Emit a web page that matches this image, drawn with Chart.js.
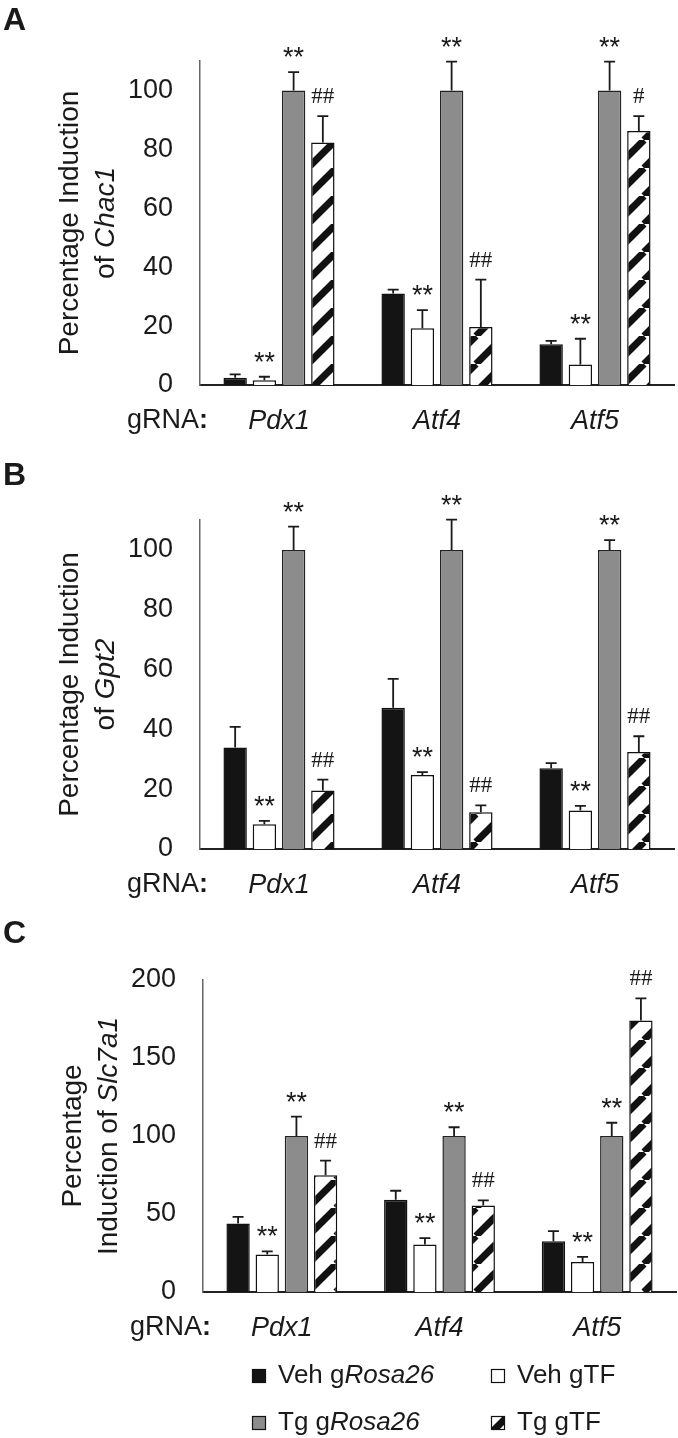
<!DOCTYPE html>
<html>
<head>
<meta charset="utf-8">
<script src="https://cdn.jsdelivr.net/npm/chart.js@4/dist/chart.umd.min.js"></script>
<style>
  html, body { margin: 0; padding: 0; background: #fff; }
  body { width: 678px; height: 1438px; position: relative; overflow: hidden; }
  .panel { position: absolute; left: 0; width: 678px; }
  #panelA { top: 0; height: 450px; }
  #panelB { top: 450px; height: 450px; }
  #panelC { top: 900px; height: 538px; }
</style>
</head>
<body>
<div class="panel" id="panelA"><canvas id="chartA"></canvas></div>
<div class="panel" id="panelB"><canvas id="chartB"></canvas></div>
<div class="panel" id="panelC"><canvas id="chartC"></canvas></div>
<script>
// ── Data ───────────────────────────────────────────────────────────────
const gRNAs = ['Pdx1', 'Atf4', 'Atf5'];
const seriesNames = ['Veh gRosa26', 'Veh gTF', 'Tg gRosa26', 'Tg gTF'];
// legend text as [text, style] runs (Rosa26 is italic)
const seriesLegend = [
  [['Veh g', ''], ['Rosa26', 'italic']],
  [['Veh gTF', '']],
  [['Tg g', ''], ['Rosa26', 'italic']],
  [['Tg gTF', '']]
];

// A - Chac1
const chacTicks = [0, 20, 40, 60, 80, 100];
const chacVehRosa = [2.5, 31.1, 13.8];
const chacVehTF   = [1.6, 19.3, 7.0];
const chacTgRosa  = [100, 100, 100];
const chacTgTF    = [82.3, 19.7, 86.2];
const chacErrVehRosa = [1.1, 1.3, 1.2];
const chacErrVehTF   = [1.2, 6.1, 8.7];
const chacErrTgRosa  = [6.2, 9.8, 9.8];
const chacErrTgTF    = [9.0, 16.1, 5.1];
const chacMarks = [['', '', ''], ['**', '**', '**'], ['**', '**', '**'], ['##', '##', '#']];

// B - Gpt2
const gptTicks = [0, 20, 40, 60, 80, 100];
const gptVehRosa = [33.9, 47.2, 27.0];
const gptVehTF   = [8.3, 24.7, 12.9];
const gptTgRosa  = [100, 100, 100];
const gptTgTF    = [19.6, 12.3, 32.4];
const gptErrVehRosa = [6.9, 9.7, 1.7];
const gptErrVehTF   = [1.1, 1.0, 1.5];
const gptErrTgRosa  = [7.8, 10.1, 3.3];
const gptErrTgTF    = [3.6, 2.3, 5.3];
const gptMarks = [['', '', ''], ['**', '**', '**'], ['**', '**', '**'], ['##', '##', '##']];

// C - Slc7a1
const slcTicks = [0, 50, 100, 150, 200];
const slcVehRosa = [43.9, 59.1, 32.6];
const slcVehTF   = [24.0, 30.4, 19.3];
const slcTgRosa  = [100, 100, 100];
const slcTgTF    = [74.8, 55.5, 174.1];
const slcErrVehRosa = [4.3, 5.8, 6.4];
const slcErrVehTF   = [2.1, 4.1, 3.2];
const slcErrTgRosa  = [12.4, 5.6, 8.5];
const slcErrTgTF    = [9.4, 3.2, 14.1];
const slcMarks = [['', '', ''], ['**', '**', '**'], ['**', '**', '**'], ['##', '##', '##']];

// ── Drawing helpers ────────────────────────────────────────────────────
const ink = '#1a1a1a';
const sans = "'Liberation Sans', Arial, sans-serif";
const serif = "'Liberation Serif', 'Times New Roman', serif";

// draw a line of mixed-style runs
function drawRuns(ctx, parts, x, y, size, align) {
  const fonts = parts.map(p => `${p[1]} ${size}px ${sans}`);
  let total = 0;
  const widths = parts.map((p, i) => { ctx.font = fonts[i]; const w = ctx.measureText(p[0]).width; total += w; return w; });
  let cx = align === 'center' ? x - total / 2 : align === 'right' ? x - total : x;
  ctx.textAlign = 'left';
  parts.forEach((p, i) => { ctx.font = fonts[i]; ctx.fillText(p[0], cx, y); cx += widths[i]; });
}

function makeHatch(ctx) {
  const c = document.createElement('canvas');
  c.width = 28; c.height = 28;
  const g = c.getContext('2d');
  g.fillStyle = '#fff'; g.fillRect(0, 0, 28, 28);
  g.strokeStyle = '#111'; g.lineWidth = 7;
  [-28, 0, 28].forEach(k => { g.beginPath(); g.moveTo(k, 28); g.lineTo(k + 28, 0); g.stroke(); });
  return ctx.createPattern(c, 'repeat');
}

// error bars, significance marks, labels, titles, legend
const panelExtras = {
  id: 'panelExtras',
  afterDatasetsDraw(chart, args, o) {
    const { ctx, chartArea: a, scales: { x, y } } = chart;
    ctx.save();
    ctx.fillStyle = ink;
    ctx.strokeStyle = ink;

    chart.data.datasets.forEach((ds, i) => {
      chart.getDatasetMeta(i).data.forEach((bar, j) => {
        const top = y.getPixelForValue(ds.data[j] + ds.err[j]);
        ctx.lineWidth = 1.8;
        ctx.beginPath();
        ctx.moveTo(bar.x, bar.y); ctx.lineTo(bar.x, top);
        ctx.moveTo(bar.x - 5.5, top); ctx.lineTo(bar.x + 5.5, top);
        ctx.stroke();
        const m = ds.marks[j];
        if (!m) return;
        ctx.textAlign = 'center';
        ctx.textBaseline = 'alphabetic';
        if (m[0] === '#') {
          ctx.font = `23px ${serif}`;
          ctx.fillText(m, bar.x, top - 21 + 8);
        } else {
          ctx.font = `27px ${sans}`;
          ctx.fillText(m, bar.x, top - 21 + 15);
        }
      });
    });

    // category labels + "gRNA:"
    ctx.textBaseline = 'middle';
    const ly = a.bottom + 36;
    chart.data.labels.forEach((lab, i) => {
      drawRuns(ctx, [[lab, 'italic']], x.getPixelForTick(i), ly, 27, 'center');
    });
    drawRuns(ctx, [['gRNA', ''], [':', 'bold']], a.left + 8, ly, 27, 'right');

    // rotated y title
    ctx.textBaseline = 'alphabetic';
    ctx.save();
    ctx.translate(a.left - 122, (a.top + a.bottom) / 2);
    ctx.rotate(-Math.PI / 2);
    o.yTitle.forEach((line, k) => drawRuns(ctx, line, 0, k * 36, 28, 'center'));
    ctx.restore();

    // panel letter
    ctx.font = `bold 32px ${sans}`;
    ctx.textAlign = 'left';
    ctx.fillText(o.letter, 3, o.letterY);

    if (o.legend) {
      const cols = [a.left + 49, a.left + 288];
      const rows = [a.bottom + 84, a.bottom + 131];
      chart.data.datasets.forEach((ds, i) => {
        const sx = cols[i % 2], sy = rows[Math.floor(i / 2)];
        // shift so a hatch stripe runs through the swatch centre
        const dx = (sx + 7 + sy + 3) % 28;
        ctx.save();
        ctx.translate(dx, 0);
        ctx.fillStyle = ds.backgroundColor;
        ctx.fillRect(sx - dx, sy - 7, 14, 14);
        ctx.restore();
        ctx.lineWidth = 1.2;
        ctx.strokeStyle = '#111';
        ctx.strokeRect(sx + 0.5, sy - 6.5, 13, 13);
        ctx.fillStyle = ink;
        ctx.textBaseline = 'middle';
        drawRuns(ctx, seriesLegend[i], sx + 26, sy, 26, 'left');
      });
    }
    ctx.restore();
  }
};

function makePanel(id, cfg) {
  const ctx = document.getElementById(id).getContext('2d');
  const hatch = makeHatch(ctx);
  const fills = ['#141414', '#ffffff', '#8c8c8c', hatch];
  const borders = ['#111', '#111', '#222', '#111'];
  const datasets = cfg.values.map((vals, i) => ({
    label: seriesNames[i],
    data: vals,
    err: cfg.errs[i],
    marks: cfg.marks[i],
    backgroundColor: fills[i],
    borderColor: borders[i],
    borderWidth: 1.5,
    categoryPercentage: 0.74,
    barPercentage: 0.8
  }));
  return new Chart(ctx, {
    type: 'bar',
    data: { labels: gRNAs, datasets },
    plugins: [panelExtras],
    options: {
      responsive: true, maintainAspectRatio: false, animation: false,
      layout: { padding: { left: 0, right: cfg.padRight, top: cfg.padTop, bottom: cfg.padBottom } },
      plugins: {
        legend: { display: false },
        tooltip: { enabled: false },
        panelExtras: { letter: cfg.letter, letterY: cfg.letterY, yTitle: cfg.yTitle, legend: cfg.legend }
      },
      scales: {
        x: {
          afterFit: s => { s.height = 10; },
          grid: { display: false, drawTicks: false },
          border: { color: '#222', width: 2 },
          ticks: { display: false }
        },
        y: {
          min: 0, max: cfg.yMax,
          afterBuildTicks: s => { s.ticks = cfg.ticks.map(v => ({ value: v })); },
          afterFit: s => { s.width = cfg.axisLeft; },
          grid: { display: false, drawTicks: false },
          border: { color: '#666', width: 1.5 },
          ticks: { padding: 27, color: ink, font: { family: sans, size: 27 } }
        }
      }
    }
  });
}

makePanel('chartA', {
  letter: 'A', letterY: 30, yMax: 110, ticks: chacTicks,
  values: [chacVehRosa, chacVehTF, chacTgRosa, chacTgTF],
  errs: [chacErrVehRosa, chacErrVehTF, chacErrTgRosa, chacErrTgTF],
  marks: chacMarks,
  yTitle: [[['Percentage Induction', '']], [['of ', ''], ['Chac1', 'italic']]],
  axisLeft: 200, padRight: 4, padTop: 61, padBottom: 55, legend: false
});

makePanel('chartB', {
  letter: 'B', letterY: 35, yMax: 110, ticks: gptTicks,
  values: [gptVehRosa, gptVehTF, gptTgRosa, gptTgTF],
  errs: [gptErrVehRosa, gptErrVehTF, gptErrTgRosa, gptErrTgTF],
  marks: gptMarks,
  yTitle: [[['Percentage Induction', '']], [['of ', ''], ['Gpt2', 'italic']]],
  axisLeft: 200, padRight: 4, padTop: 70, padBottom: 41, legend: false
});

makePanel('chartC', {
  letter: 'C', letterY: 43, yMax: 200, ticks: slcTicks,
  values: [slcVehRosa, slcVehTF, slcTgRosa, slcTgTF],
  errs: [slcErrVehRosa, slcErrVehTF, slcErrTgRosa, slcErrTgTF],
  marks: slcMarks,
  yTitle: [[['Percentage', '']], [['Induction of ', ''], ['Slc7a1', 'italic']]],
  axisLeft: 203, padRight: 2, padTop: 80, padBottom: 136, legend: true
});
</script>
</body>
</html>
